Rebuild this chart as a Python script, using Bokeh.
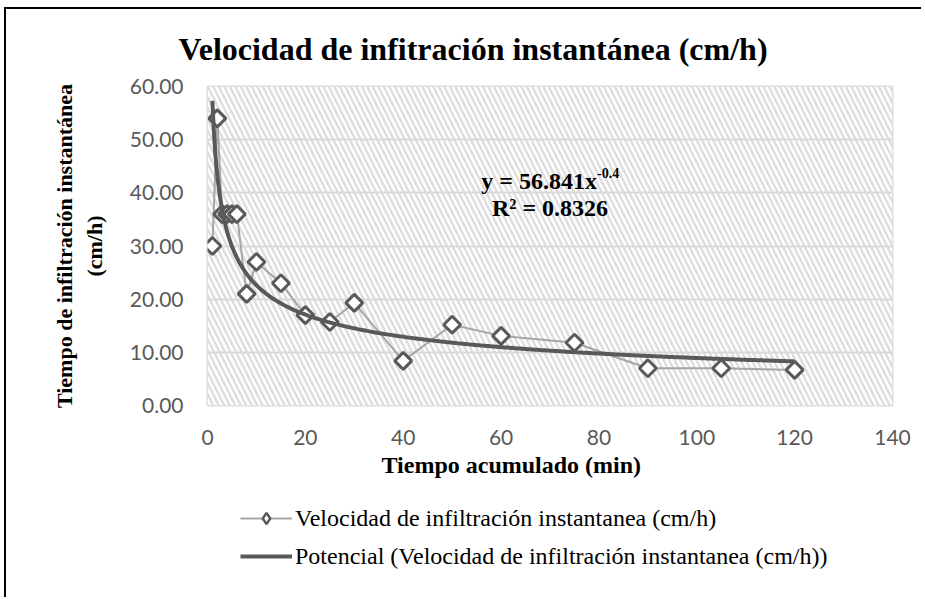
import numpy as np
from bokeh.plotting import figure
from bokeh.layouts import column
from bokeh.models import (Legend, LegendItem, BoxAnnotation, Label,
                          NumeralTickFormatter, Range1d, Title)
from bokeh.embed import file_html
from bokeh.resources import INLINE

# ---- data ----
time_min = [1, 2, 3, 4, 5, 6, 8, 10, 15, 20, 25, 30, 40, 50, 60, 75, 90, 105, 120]
velocity = [30.0, 54.0, 36.0, 36.0, 36.0, 36.0, 21.0, 27.0, 23.0, 17.0, 15.7, 19.3,
            8.4, 15.2, 13.1, 11.8, 7.0, 7.0, 6.7]
x_ticks = [0, 20, 40, 60, 80, 100, 120, 140]
y_ticks = [0, 10, 20, 30, 40, 50, 60]

title_text = "Velocidad de infitración instantánea (cm/h)"
x_label = "Tiempo acumulado (min)"
y_label = "Tiempo de infiltración instantánea\n(cm/h)"
series_name = "Velocidad de infiltración instantanea (cm/h)"
trend_name = "Potencial (Velocidad de infiltración instantanea (cm/h))"
eq_main = "y = 56.841x"
eq_exp = "-0.4"
eq_r2 = "R² = 0.8326"

# power trend line fitted (least squares in log-log space) from the data
xs = np.array(time_min, dtype=float)
ys = np.array(velocity, dtype=float)
b, ln_a = np.polyfit(np.log(xs), np.log(ys), 1)
trend_x = np.linspace(xs.min(), xs.max(), 400)
trend_y = np.exp(ln_a) * trend_x ** b

SERIF = "Liberation Serif"
SERIES_LINE = dict(line_color="#a6a6a6", line_width=2)
MARKER = dict(marker="square", angle=np.pi / 4, size=12,
              line_color="#595959", line_width=3, fill_color="white")
LEGEND_MARKER = dict(marker="diamond", size=14,
                     line_color="#595959", line_width=2.5, fill_color="white")
TREND_LINE = dict(line_color="#595959", line_width=4)

# ================= main chart =================
p = figure(width=915, height=486, output_backend="svg", toolbar_location=None,
           x_range=Range1d(0, 140), y_range=Range1d(0, 60),
           min_border_left=201, min_border_right=29, min_border_top=76,
           min_border_bottom=90,
           background_fill_color="white", border_fill_color="white")

p.title = Title(text=title_text, align="left", offset=-29, standoff=39,
                text_font=SERIF, text_font_size="32px", text_font_style="bold",
                text_color="black")

# hatched plot area
p.add_layout(BoxAnnotation(left=0, right=140, bottom=0, top=60,
                           fill_color="white", fill_alpha=1.0,
                           hatch_pattern="\\", hatch_color="#dedede",
                           hatch_scale=11, hatch_weight=2.5,
                           line_color=None, level="image"))

p.xgrid.grid_line_color = None
p.ygrid.grid_line_color = "#d9d9d9"
p.ygrid.grid_line_width = 2
p.outline_line_color = "#d9d9d9"
p.outline_line_width = 2

for ax in (p.xaxis[0], p.yaxis[0]):
    ax.axis_line_color = None
    ax.major_tick_line_color = None
    ax.minor_tick_line_color = None
    ax.major_tick_out = 0
    ax.major_label_text_font = "Lato"
    ax.major_label_text_font_size = "21px"
    ax.major_label_text_color = "#595959"

p.xaxis.ticker = x_ticks
p.yaxis.ticker = y_ticks
p.yaxis.formatter = NumeralTickFormatter(format="0.00")
p.xaxis.major_label_standoff = 24
p.yaxis.major_label_standoff = 24

p.yaxis.axis_label = y_label
p.yaxis.axis_label_text_font = SERIF
p.yaxis.axis_label_text_font_size = "22px"
p.yaxis.axis_label_text_font_style = "bold"
p.yaxis.axis_label_text_color = "black"
p.yaxis.axis_label_standoff = 20

# x axis title (shifted left as in the reference), stacked under the x axis
p.add_layout(Title(text=x_label, align="left", offset=174, standoff=5,
                   text_font=SERIF, text_font_size="24px", text_font_style="bold",
                   text_color="black"), "below")

p.line(time_min, velocity, **SERIES_LINE)
p.scatter(time_min, velocity, **MARKER)
p.line(trend_x, trend_y, **TREND_LINE)

# equation annotation
p.add_layout(Label(x=79.6, y=42.2, text=eq_main, text_align="right",
                   text_baseline="middle", text_font=SERIF, text_font_size="24px",
                   text_font_style="bold", text_color="black"))
p.add_layout(Label(x=79.6, y=43.8, text=eq_exp, text_align="left",
                   text_baseline="middle", text_font=SERIF, text_font_size="14px",
                   text_font_style="bold", text_color="black"))
p.add_layout(Label(x=70, y=37.1, text=eq_r2, text_align="center",
                   text_baseline="middle", text_font=SERIF, text_font_size="24px",
                   text_font_style="bold", text_color="black"))

# ================= legend strip =================
# same series drawn again on a strip whose ranges lie outside the data,
# so only the legend entries of this strip are visible
lg = figure(width=915, height=102, output_backend="svg", toolbar_location=None,
            x_range=Range1d(-2, -1), y_range=Range1d(-2, -1),
            x_axis_location=None, y_axis_location=None,
            min_border=0, outline_line_color=None,
            background_fill_color="white", border_fill_color="white")
lg.xgrid.grid_line_color = None
lg.ygrid.grid_line_color = None
l_line = lg.line(time_min, velocity, **SERIES_LINE)
l_pts = lg.scatter(time_min, velocity, **LEGEND_MARKER)
l_trend = lg.line(trend_x, trend_y, **TREND_LINE)

legend = Legend(items=[LegendItem(label=series_name, renderers=[l_line, l_pts]),
                       LegendItem(label=trend_name, renderers=[l_trend])],
                location=(33, 27), orientation="vertical",
                label_text_font=SERIF, label_text_font_size="24px",
                label_text_color="black",
                glyph_width=52, glyph_height=28, label_height=28,
                spacing=10, padding=0, margin=0, label_standoff=3,
                border_line_color=None, background_fill_alpha=0)
lg.add_layout(legend)

layout = column(p, lg, spacing=0,
                styles={"margin-left": "4px", "margin-top": "7px",
                        "border-left": "2px solid black",
                        "border-top": "2px solid black"})

open("out.html", "w").write(file_html(layout, INLINE))
